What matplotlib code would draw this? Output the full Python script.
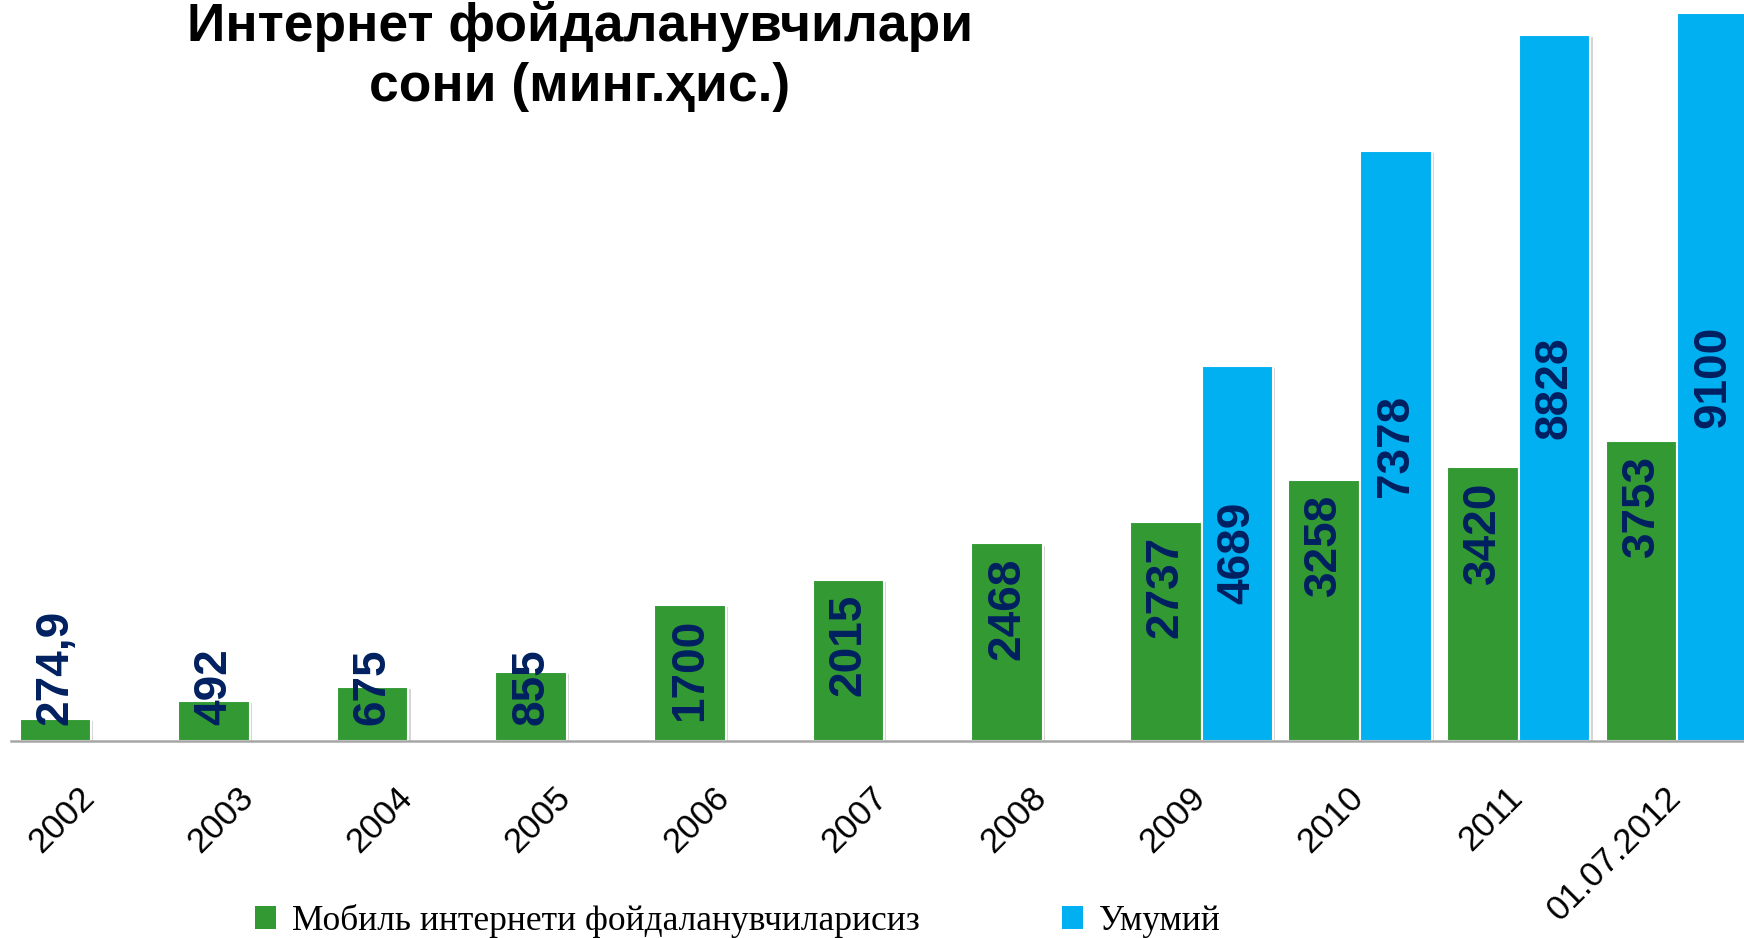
import numpy as np
import matplotlib.pyplot as plt
from matplotlib.patches import Patch
import matplotlib.patheffects as pe

plt.rcParams['font.family'] = ['Liberation Sans', 'DejaVu Sans']

years = ["2002", "2003", "2004", "2005", "2006", "2007", "2008",
         "2009", "2010", "2011", "01.07.2012"]
mobile = [274.9, 492, 675, 855, 1700, 2015, 2468, 2737, 3258, 3420, 3753]
total = [np.nan, np.nan, np.nan, np.nan, np.nan, np.nan, np.nan,
         4689, 7378, 8828, 9100]
mobile_lbl = ["274,9", "492", "675", "855", "1700", "2015", "2468",
              "2737", "3258", "3420", "3753"]
total_lbl = ["", "", "", "", "", "", "", "4689", "7378", "8828", "9100"]

green = "#339933"
blue = "#00B0F0"
navy = "#002060"

fig = plt.figure(figsize=(17.44, 9.38), dpi=100)
ax = fig.add_axes([11 / 1744, 0.2103, 1 - 11 / 1744, 0.7897])

x = np.arange(len(years))
w = 0.452
shadow = [pe.SimplePatchShadow(offset=(1.5, -1.5), shadow_rgbFace="#888888", alpha=0.35),
          pe.Normal()]

b1 = ax.bar(x - w / 2, mobile, w, color=green, edgecolor="white", linewidth=1.5, zorder=2)
b2 = ax.bar(x + w / 2, total, w, color=blue, edgecolor="white", linewidth=1.5, zorder=2)
for r in list(b1) + list(b2):
    r.set_path_effects(shadow)

ax.set_xlim(-0.506, 10.42)
ax.set_ylim(0, 9267)

for s in ["top", "left", "right"]:
    ax.spines[s].set_visible(False)
ax.spines["bottom"].set_color("#A6A6A6")
ax.spines["bottom"].set_linewidth(1.8)
ax.set_yticks([])
ax.set_xticks(x - 0.01)
ax.set_xticklabels(years, rotation=45, ha="right", va="center",
                   rotation_mode="anchor", fontsize=25)
ax.tick_params(axis="x", length=0, pad=37)

fig.canvas.draw()
renderer = fig.canvas.get_renderer()
base_y = ax.transData.transform((0, 0))[1]

# green labels: inside end, fall back to inside base when they don't fit
for xi, v, t in zip(x, mobile, mobile_lbl):
    a = ax.annotate(t, xy=(xi - w / 2, v), xytext=(0, -10), textcoords="offset points",
                    rotation=90, ha="center", va="top", fontsize=33,
                    fontweight="bold", color=navy, zorder=3)
    bb = a.get_window_extent(renderer)
    if bb.y0 < base_y + 15:
        a.xy = (xi - w / 2, 0)
        a.xyann = (0, 11)
        a.set_va("bottom")

# blue labels: centred in the bar
for xi, v, t in zip(x, total, total_lbl):
    if t:
        ax.annotate(t, xy=(xi + w / 2, v / 2), rotation=90, ha="center", va="center",
                    fontsize=33, fontweight="bold", color=navy, zorder=3)

fig.text(580 / 1744, 1 - 41 / 938, "Интернет фойдаланувчилари", ha="center",
         va="baseline", fontsize=38.4, fontweight="bold")
fig.text(580 / 1744, 1 - 101 / 938, "сони (минг.ҳис.)", ha="center",
         va="baseline", fontsize=38.4, fontweight="bold")

handles = [Patch(facecolor=green), Patch(facecolor=blue)]
fig.legend(handles, ["Мобиль интернети фойдаланувчиларисиз", "Умумий"],
           loc="lower left", bbox_to_anchor=(255 / 1744, 0.0), ncol=2, frameon=False,
           prop={"family": "Liberation Serif", "size": 25.5},
           handlelength=0.6, handleheight=0.6, handletextpad=0.45,
           columnspacing=4.0, borderaxespad=0, borderpad=0)

fig.savefig("out.png", dpi=100, facecolor="white")
